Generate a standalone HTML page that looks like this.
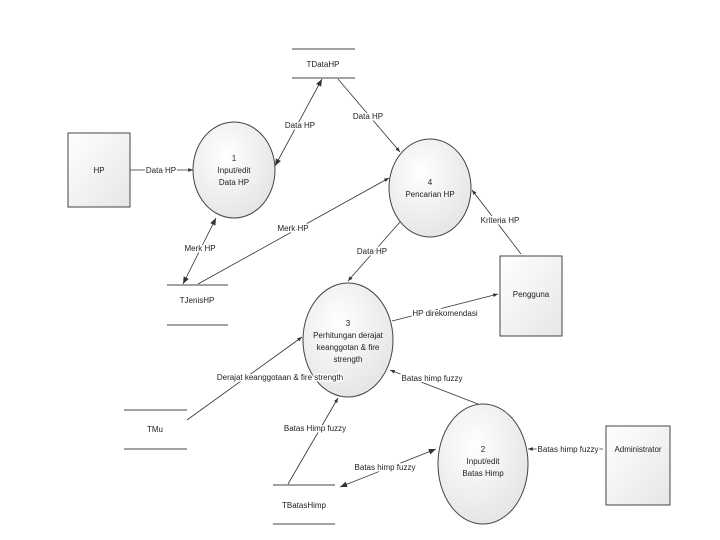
<!DOCTYPE html>
<html><head><style>body{margin:0;background:#fff}svg{display:block}text{font-family:"Liberation Sans",sans-serif;font-size:8px;fill:#222}</style></head>
<body>
<svg width="720" height="540" viewBox="0 0 720 540" xmlns="http://www.w3.org/2000/svg">
<defs>
<radialGradient id="g" cx="40%" cy="35%" r="70%"><stop offset="0" stop-color="#fff"/><stop offset="1" stop-color="#e4e4e4"/></radialGradient>
<linearGradient id="b" x1="0" y1="0" x2="1" y2="1"><stop offset="0" stop-color="#fff"/><stop offset="1" stop-color="#e6e6e6"/></linearGradient>
<marker id="a" viewBox="0 0 10 10" refX="10" refY="5" markerWidth="9" markerHeight="9" orient="auto-start-reverse"><path d="M0,1 L10,5 L0,9z" fill="#333"/></marker>
<marker id="s" viewBox="0 0 10 10" refX="10" refY="5" markerWidth="6" markerHeight="6" orient="auto"><path d="M0,1 L10,5 L0,9z" fill="#333"/></marker>
</defs>
<g stroke="#444" stroke-width="1">
<rect x="68" y="133" width="62" height="74" fill="url(#b)"/>
<rect x="500" y="256" width="62" height="80" fill="url(#b)"/>
<rect x="606" y="426" width="64" height="79" fill="url(#b)"/>
<ellipse cx="234" cy="170" rx="41" ry="48" fill="url(#g)"/>
<ellipse cx="430" cy="188" rx="41" ry="49" fill="url(#g)"/>
<ellipse cx="348" cy="340" rx="45" ry="57" fill="url(#g)"/>
<ellipse cx="483" cy="464" rx="45" ry="60" fill="url(#g)"/>
<path d="M292 49H355M292 78H355M167 285H228M167 325H228M124 410H187M124 449H187M273 485H335M273 524H335" fill="none"/>
</g>
<g stroke="#333" stroke-width="0.8" fill="none">
<line x1="130" y1="170" x2="193" y2="170" marker-end="url(#s)"/>
<line x1="275" y1="166" x2="322" y2="79" marker-start="url(#a)" marker-end="url(#a)"/>
<line x1="338" y1="79" x2="400" y2="152" marker-end="url(#s)"/>
<line x1="183" y1="284" x2="216" y2="218" marker-start="url(#a)" marker-end="url(#a)"/>
<line x1="198" y1="284" x2="389" y2="178" marker-end="url(#s)"/>
<line x1="400" y1="222" x2="348" y2="281" marker-end="url(#s)"/>
<line x1="521" y1="254" x2="472" y2="190" marker-end="url(#s)"/>
<line x1="392" y1="321" x2="498" y2="294" marker-end="url(#s)"/>
<line x1="187" y1="420" x2="302" y2="337" marker-end="url(#s)"/>
<line x1="288" y1="484" x2="338" y2="398" marker-end="url(#s)"/>
<line x1="478" y1="404" x2="390" y2="370" marker-end="url(#s)"/>
<line x1="340" y1="487" x2="436" y2="449" marker-start="url(#a)" marker-end="url(#a)"/>
<line x1="603" y1="449" x2="528" y2="449" marker-end="url(#s)"/>
</g>
<g text-anchor="middle">
<text x="99" y="173">HP</text>
<text x="531" y="297">Pengguna</text>
<text x="638" y="452">Administrator</text>
<text x="323" y="67">TDataHP</text>
<text x="197" y="303">TJenisHP</text>
<text x="155" y="432">TMu</text>
<text x="304" y="508">TBatasHimp</text>
<text x="234" y="161">1</text><text x="234" y="173">Input/edit</text><text x="234" y="185">Data HP</text>
<text x="430" y="185">4</text><text x="430" y="197">Pencarian HP</text>
<text x="348" y="326">3</text><text x="348" y="338">Perhitungan derajat</text><text x="348" y="350">keanggotan &amp; fire</text><text x="348" y="362">strength</text>
<text x="483" y="452">2</text><text x="483" y="464">Input/edit</text><text x="483" y="476">Batas Himp</text>
</g>
<g text-anchor="middle" style="paint-order:stroke" stroke="#fff" stroke-width="3">
<text x="161" y="173">Data HP</text>
<text x="300" y="128">Data HP</text>
<text x="368" y="119">Data HP</text>
<text x="200" y="251">Merk HP</text>
<text x="293" y="231">Merk HP</text>
<text x="372" y="254">Data HP</text>
<text x="500" y="223">Kriteria HP</text>
<text x="445" y="316">HP direkomendasi</text>
<text x="280" y="380">Derajat keanggotaan &amp; fire strength</text>
<text x="315" y="431">Batas Himp fuzzy</text>
<text x="432" y="381">Batas himp fuzzy</text>
<text x="385" y="470">Batas himp fuzzy</text>
<text x="568" y="452">Batas himp fuzzy</text>
</g>
</svg>
</body></html>
